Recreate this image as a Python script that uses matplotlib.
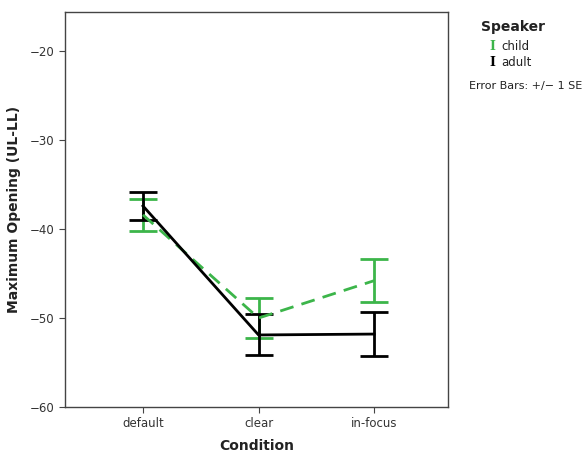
import numpy as np
import matplotlib.pyplot as plt

# Data
conditions = ["default", "clear", "in-focus"]
child_mean = [-38.4, -50.0, -45.8]
child_se = [1.8, 2.25, 2.45]
adult_mean = [-37.4, -51.9, -51.8]
adult_se = [1.6, 2.3, 2.45]

green = "#3cb54a"
x = np.arange(len(conditions))

fig = plt.figure(figsize=(5.88, 4.53), dpi=100)
ax = fig.add_axes([0.1105, 0.1015, 0.6515, 0.872])

ax.errorbar(x, child_mean, yerr=child_se, color=green, linestyle="--",
            dashes=(5, 3), linewidth=2, capsize=10, capthick=2, elinewidth=2)
ax.errorbar(x, adult_mean, yerr=adult_se, color="black", linestyle="-",
            linewidth=2, capsize=10, capthick=2, elinewidth=2)

ax.set_xlim(-0.675, 2.64)
ax.set_ylim(-60, -15.6)
ax.set_yticks([-60, -50, -40, -30, -20])
ax.set_xticks(x)
ax.set_xticklabels(conditions)
ax.tick_params(labelsize=8.5, color="#444444", labelcolor="#333333",
               length=4, direction="out")
for s in ax.spines.values():
    s.set_color("#444444")
    s.set_linewidth(1)
ax.tick_params(top=False, right=False)

ax.set_xlabel("Condition", fontsize=10, fontweight="bold", labelpad=6, color="#222222")
ax.set_ylabel("Maximum Opening (UL-LL)", fontsize=10, fontweight="bold", labelpad=6,
              color="#222222")

# legend drawn as text
fig.text(0.873, 0.94, "Speaker", fontsize=10, fontweight="bold", ha="center",
         va="center", color="#222222")
fig.text(0.838, 0.898, "I", fontsize=9, fontweight="bold", family="DejaVu Serif",
         color=green, ha="center", va="center")
fig.text(0.853, 0.898, "child", fontsize=8.5, ha="left", va="center", color="#222222")
fig.text(0.838, 0.862, "I", fontsize=9, fontweight="bold", family="DejaVu Serif",
         color="black", ha="center", va="center")
fig.text(0.853, 0.862, "adult", fontsize=8.5, ha="left", va="center", color="#222222")
fig.text(0.797, 0.81, "Error Bars: +/\u2212 1 SE", fontsize=8, ha="left", va="center",
         color="#222222")

fig.savefig("out.png", dpi=100)
